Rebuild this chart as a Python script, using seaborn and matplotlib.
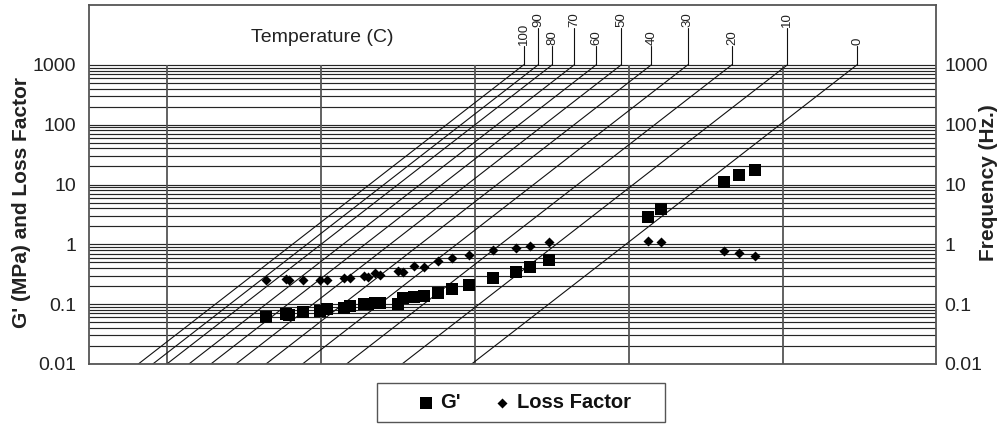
import numpy as np
import pandas as pd
import matplotlib
matplotlib.use("Agg")
import matplotlib.pyplot as plt
import seaborn as sns
from matplotlib.ticker import FixedLocator, NullLocator
from matplotlib.patches import Rectangle

# ---------------- data ----------------
# reduced frequency (log10) of measured points
log_fr = [-3.714, -3.455, -3.416, -3.234, -3.013, -2.922, -2.701, -2.623,
          -2.442, -2.390, -2.299, -2.234, -2.000, -1.935, -1.792, -1.662,
          -1.481, -1.299, -1.078, -0.766, -0.468, -0.286, -0.039,
          1.247, 1.416, 2.234, 2.429, 2.636]
g_prime = [0.061, 0.069, 0.066, 0.074, 0.077, 0.083, 0.086, 0.093,
           0.101, 0.101, 0.104, 0.105, 0.101, 0.125, 0.132, 0.137,
           0.154, 0.180, 0.209, 0.274, 0.345, 0.419, 0.548,
           2.87, 3.91, 11.0, 14.5, 17.6]
loss_factor = [0.254, 0.264, 0.254, 0.254, 0.254, 0.254, 0.274, 0.274,
               0.296, 0.285, 0.333, 0.308, 0.359, 0.345, 0.435, 0.419,
               0.527, 0.593, 0.665, 0.806, 0.871, 0.94, 1.10,
               1.14, 1.10, 0.776, 0.718, 0.640]

# temperature lines: log10 of shift factor aT
temperatures = [100, 90, 80, 70, 60, 50, 40, 30, 20, 10, 0]
log_aT = [-3.370, -3.182, -3.000, -2.714, -2.429, -2.104, -1.714,
          -1.240, -0.669, 0.052, 0.955]

y_ticks = [0.01, 0.1, 1, 10, 100, 1000]
y_tick_labels = ["0.01", "0.1", "1", "10", "100", "1000"]

# ---------------- style ----------------
sns.set_theme(style="white")
plt.rcParams['font.family'] = ['Liberation Sans', 'DejaVu Sans']

fig = plt.figure(figsize=(10.02, 4.24), dpi=100)
ax = fig.add_axes([89/1002, 1-364/424, (936-89)/1002, (364-5)/424])
ax.set_xscale("log")
ax.set_yscale("log")
xmin, xmax = 10**-6.01, 10**4.98
ymin, ymax = 0.01, 1e4
ax.set_xlim(xmin, xmax)
ax.set_ylim(ymin, ymax)

# horizontal grid (only 0.01 .. 1000)
hl = []
for d in range(-2, 3):
    for k in range(1, 10):
        hl.append(k * 10.0**d)
hl.append(1000.0)
ax.hlines(hl, xmin, xmax, colors="#262626", linewidth=0.85, zorder=1)
# vertical grid
ax.vlines([1e-5, 1e-3, 1e-1, 1e1, 1e3], 0.01, 1000, colors="#555555",
          linewidth=1.3, zorder=1)

# temperature lines
rows = []
for T, a in zip(temperatures, log_aT):
    for f in (0.01, 1000.0):
        rows.append({"T": T, "fr": f * 10**a, "f": f})
tdf = pd.DataFrame(rows)
sns.lineplot(data=tdf, x="fr", y="f", units="T", estimator=None,
             color="#111111", linewidth=0.8, legend=False, ax=ax, zorder=2)

# stubs + labels
for i, (T, a) in enumerate(zip(temperatures, log_aT)):
    xt = 1000.0 * 10**a
    top = 2080 if i % 2 == 0 else 4160
    ax.plot([xt, xt], [1000, top], color="#111111", linewidth=0.8, zorder=2)
    ax.text(xt, top * 1.04, str(T), rotation=90, ha="center", va="bottom",
            fontsize=9.5, color="#222222")

ax.text((322-89)/847, (364-38)/359, "Temperature (C)", transform=ax.transAxes,
        ha="center", va="center", fontsize=14, color="#222222")

# data
df = pd.DataFrame({"fr": 10**np.array(log_fr), "G": g_prime, "LF": loss_factor})
sns.scatterplot(data=df, x="fr", y="G", marker="s", s=64, color="black",
                edgecolor="black", linewidth=0, ax=ax, zorder=4, label="G'")
sns.scatterplot(data=df, x="fr", y="LF", marker="D", s=26, color="black",
                edgecolor="black", linewidth=0, ax=ax, zorder=4,
                label="Loss Factor")
handles, labels = ax.get_legend_handles_labels()
if ax.get_legend() is not None:
    ax.get_legend().remove()

ax.set_xlabel("")
ax.set_ylabel("")
ax.xaxis.set_major_locator(NullLocator())
ax.xaxis.set_minor_locator(NullLocator())
ax.yaxis.set_major_locator(FixedLocator(y_ticks))
ax.yaxis.set_minor_locator(NullLocator())
ax.set_yticklabels(y_tick_labels)
ax.tick_params(axis="y", length=0, pad=9, labelsize=14, labelcolor="#222222")

for sp in ax.spines.values():
    sp.set_color("#555555")
    sp.set_linewidth(1.3)

ax2 = ax.twinx()
ax2.set_yscale("log")
ax2.set_ylim(ymin, ymax)
ax2.yaxis.set_major_locator(FixedLocator(y_ticks))
ax2.yaxis.set_minor_locator(NullLocator())
ax2.set_yticklabels(y_tick_labels)
ax2.tick_params(axis="y", length=0, pad=6, labelsize=14, labelcolor="#222222")
for sp in ax2.spines.values():
    sp.set_visible(False)

fig.text(22/1002, 1-202/424, "G' (MPa) and Loss Factor", rotation=90,
         ha="center", va="center", fontsize=15, fontweight="bold",
         color="#222222")
fig.text(989/1002, 1-183/424, "Frequency (Hz.)", rotation=90,
         ha="center", va="center", fontsize=15, fontweight="bold",
         color="#222222")

leg = fig.legend(handles, labels, loc="center", bbox_to_anchor=(523/1002, 1-402.5/424),
                 ncol=2, frameon=False, prop={"weight": "bold", "size": 14.5},
                 handletextpad=0.2, columnspacing=1.6, borderpad=0.35,
                 handlelength=1.0, borderaxespad=0)
for t in leg.get_texts():
    t.set_color("#111111")
fig.patches.append(Rectangle((377/1002, 1-422/424), (665-377)/1002, 39/424,
                             transform=fig.transFigure, fill=False,
                             edgecolor="#555555", linewidth=1.0))

fig.savefig("out.png", dpi=100)
